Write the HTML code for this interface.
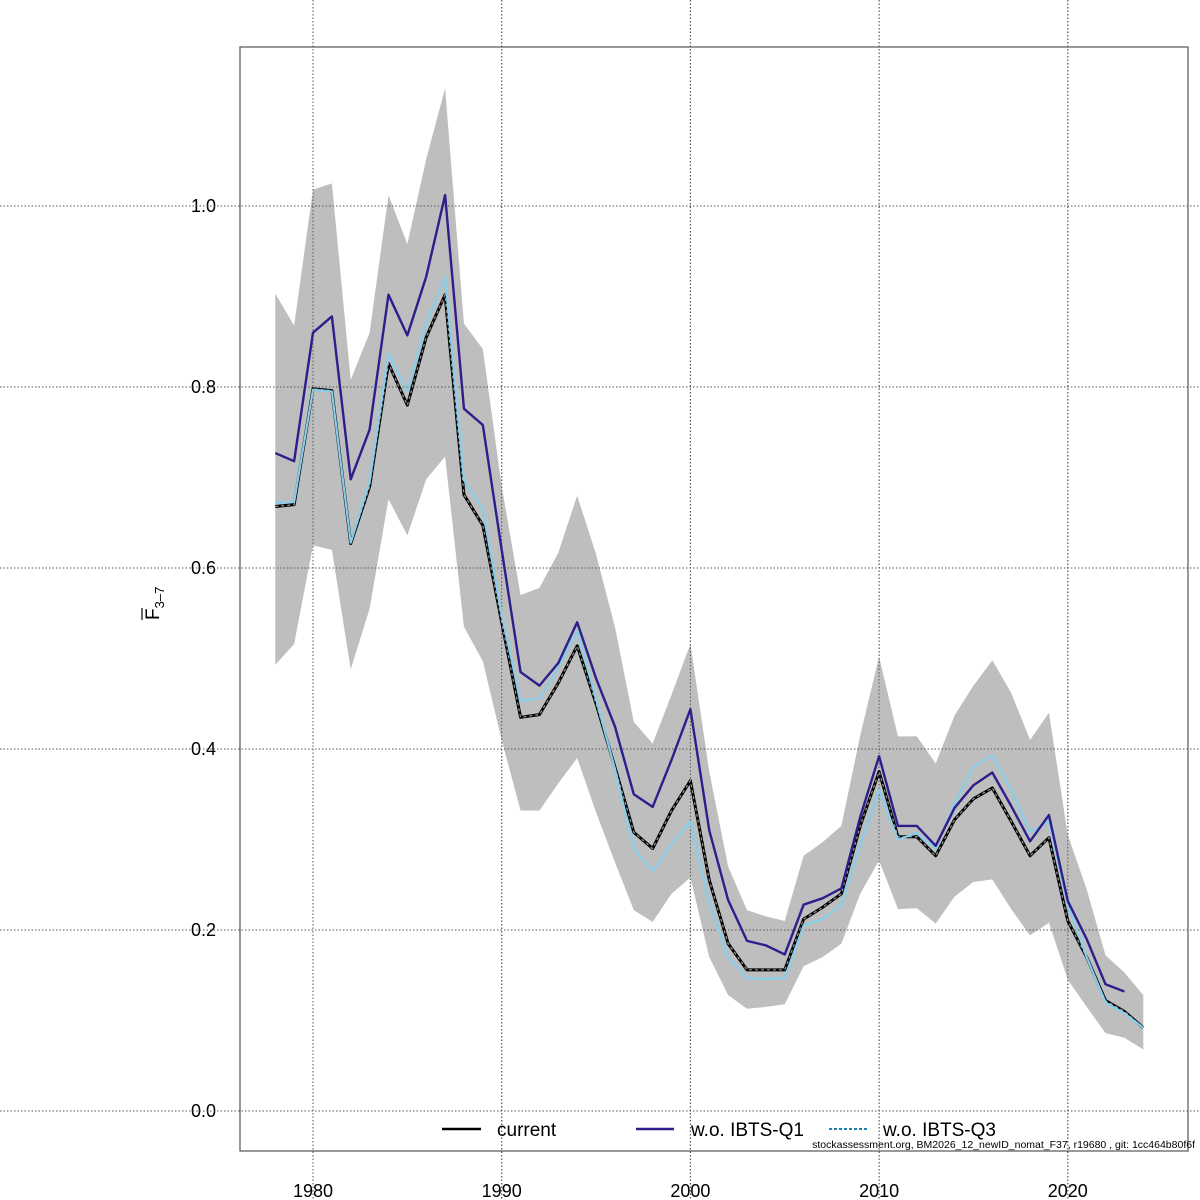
<!DOCTYPE html>
<html><head><meta charset="utf-8"><style>
html,body{margin:0;padding:0;background:#fff;}
svg{display:block;font-family:"Liberation Sans",sans-serif;}
</style></head><body>
<svg id="chart" width="1200" height="1200" viewBox="0 0 1200 1200"></svg>
<script>
const years=[];for(let y=1978;y<=2024;y++)years.push(y);
const current=[0.668,0.670,0.798,0.796,0.627,0.690,0.826,0.780,0.855,0.902,0.681,0.647,0.540,0.435,0.438,0.473,0.514,0.450,0.380,0.308,0.290,0.332,0.365,0.255,0.185,0.156,0.156,0.156,0.212,0.225,0.240,0.315,0.375,0.303,0.303,0.282,0.322,0.345,0.357,0.320,0.282,0.302,0.210,0.170,0.122,0.110,0.092];
const woQ1=[0.727,0.718,0.860,0.878,0.698,0.753,0.902,0.857,0.922,1.012,0.776,0.758,0.620,0.485,0.470,0.495,0.540,0.478,0.425,0.350,0.336,0.388,0.444,0.310,0.233,0.188,0.183,0.173,0.228,0.235,0.246,0.325,0.392,0.315,0.315,0.293,0.335,0.360,0.374,0.337,0.298,0.327,0.232,0.190,0.140,0.132];
const woQ3=[0.672,0.673,0.797,0.795,0.628,0.695,0.837,0.795,0.870,0.922,0.697,0.664,0.548,0.453,0.456,0.490,0.530,0.455,0.378,0.290,0.265,0.295,0.320,0.230,0.170,0.147,0.146,0.147,0.205,0.212,0.228,0.295,0.355,0.300,0.307,0.290,0.340,0.380,0.393,0.355,0.308,0.320,0.228,0.170,0.120,0.108,0.092];
const upper=[0.903,0.868,1.018,1.025,0.808,0.860,1.012,0.958,1.052,1.130,0.870,0.842,0.690,0.570,0.578,0.617,0.680,0.615,0.535,0.430,0.406,0.460,0.516,0.375,0.270,0.222,0.215,0.210,0.282,0.297,0.315,0.415,0.502,0.414,0.414,0.384,0.437,0.470,0.498,0.462,0.410,0.440,0.305,0.245,0.172,0.153,0.128];
const lower=[0.493,0.516,0.625,0.620,0.488,0.555,0.676,0.636,0.698,0.723,0.535,0.497,0.410,0.332,0.332,0.362,0.390,0.330,0.275,0.222,0.209,0.240,0.258,0.170,0.128,0.113,0.115,0.118,0.160,0.170,0.185,0.240,0.277,0.223,0.224,0.207,0.237,0.253,0.256,0.223,0.194,0.208,0.145,0.115,0.086,0.081,0.068];
const xTicks=[1980,1990,2000,2010,2020];
const yTicks=[0.0,0.2,0.4,0.6,0.8,1.0];

const NS="http://www.w3.org/2000/svg";
const svg=document.getElementById('chart');
const X=y=>313+(y-1980)*18.87;
const Y=v=>1111-v*905;
function mk(tag,attrs,parent){const e=document.createElementNS(NS,tag);for(const k in attrs)e.setAttribute(k,attrs[k]);(parent||svg).appendChild(e);return e;}

// grid
xTicks.forEach(t=>{
  const g=mk('line',{x1:X(t),x2:X(t),y1:0,y2:1200,stroke:'#555','stroke-width':1,'stroke-dasharray':'1.5,2'});
  
  
  const l=mk('text',{x:X(t),y:1197,'text-anchor':'middle','font-size':18,fill:'#000'});
  l.textContent=t;
  
  
});
yTicks.forEach(t=>{
  const g=mk('line',{x1:0,x2:1200,y1:Y(t),y2:Y(t),stroke:'#555','stroke-width':1,'stroke-dasharray':'1.5,2'});
  
  
  const l=mk('text',{x:216,y:Y(t)+6,'text-anchor':'end','font-size':18,fill:'#000'});
  l.textContent=t.toFixed(1);
  
  
});

// band
let d='';years.forEach((y,i)=>{d+=(i?'L':'M')+X(y)+','+Y(upper[i]);});
for(let i=years.length-1;i>=0;i--)d+='L'+X(years[i])+','+Y(lower[i]);
const band=mk('path',{d:d+'Z',fill:'#bebebe',stroke:'none'});



// redraw grid over band lightly (grid appears on top in reference)
xTicks.forEach(t=>{mk('line',{x1:X(t),x2:X(t),y1:0,y2:1200,stroke:'#555','stroke-width':1,'stroke-dasharray':'1.5,2'});});
yTicks.forEach(t=>{mk('line',{x1:0,x2:1200,y1:Y(t),y2:Y(t),stroke:'#555','stroke-width':1,'stroke-dasharray':'1.5,2'});});

function pts(arr){return arr.map((v,i)=>X(years[i])+','+Y(v)).join(' ');}
const cur=mk('polyline',{points:pts(current),fill:'none',stroke:'#000','stroke-width':3,'stroke-linejoin':'round'});


const curd=mk('polyline',{points:pts(current),fill:'none',stroke:'#9a9a9a','stroke-width':1.2,'stroke-dasharray':'3,3'});


const q3=mk('polyline',{points:pts(woQ3),fill:'none',stroke:'#87ceeb','stroke-width':2.2,'stroke-linejoin':'round'});


const q1=mk('polyline',{points:pts(woQ1),fill:'none',stroke:'#2d1e8c','stroke-width':2.4,'stroke-linejoin':'round'});



// box
const box=mk('rect',{x:240,y:47,width:948,height:1104,fill:'none',stroke:'#555','stroke-width':1.2});


</script>
<svg width="1200" height="1200" style="position:absolute;left:0;top:0;font-family:'Liberation Sans',sans-serif">
  <g transform="translate(159,620) rotate(-90)">
    <text x="0" y="0" font-size="19" fill="#000">F<tspan font-size="13" dy="5">3–7</tspan></text>
    <line x1="0" y1="-17" x2="12" y2="-17" stroke="#000" stroke-width="1.2"/>
  </g>
  <g>
    <g>
      <line x1="442" y1="1129" x2="481" y2="1129" stroke="#000" stroke-width="2.5"/>
      <text x="497" y="1136" font-size="19" fill="#000">current</text>
    </g>
    <g>
      <line x1="636" y1="1129" x2="674" y2="1129" stroke="#2d1e8c" stroke-width="2.5"/>
      <text x="691" y="1136" font-size="19" fill="#000">w.o. IBTS-Q1</text>
    </g>
    <g>
      <line x1="829" y1="1129" x2="867" y2="1129" stroke="#1f7fb0" stroke-width="2" stroke-dasharray="3,2"/>
      <text x="883" y="1136" font-size="19" fill="#000">w.o. IBTS-Q3</text>
    </g>
  </g>
  <text x="1195" y="1148" text-anchor="end" font-size="10.5" fill="#000">stockassessment.org, BM2026_12_newID_nomat_F37, r19680 , git: 1cc464b80f6f</text>
</svg>
</body></html>
